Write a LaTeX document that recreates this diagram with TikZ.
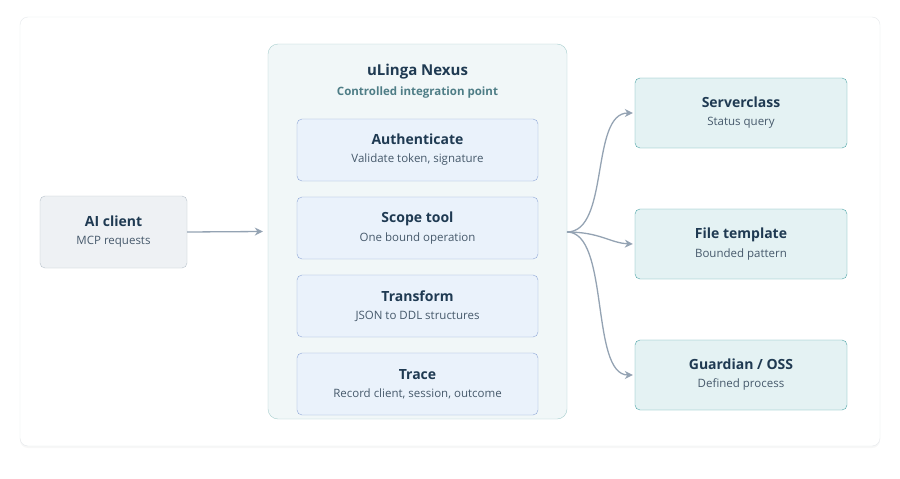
\documentclass[tikz,border=0pt]{standalone}
\usepackage{fontspec}
\setmainfont{Open Sans}
\usetikzlibrary{arrows.meta,shadows,calc}
\definecolor{ink}{HTML}{1F3A52}
\definecolor{subink}{HTML}{46596B}
\definecolor{wire}{HTML}{94A3B3}
\definecolor{hubsub}{HTML}{4E7D86}
\definecolor{cardline}{HTML}{E6E9EC}
\definecolor{clientfill}{HTML}{EEF1F4}
\definecolor{clientline}{HTML}{B8C2CC}
\definecolor{hubfill}{HTML}{F1F7F8}
\definecolor{hubline}{HTML}{A9CFCF}
\definecolor{stagefill}{HTML}{EAF2FB}
\definecolor{stageline}{HTML}{8FA7D6}
\definecolor{targetfill}{HTML}{E4F2F3}
\definecolor{targetline}{HTML}{4FA6A8}
\tikzset{
    card/.style =   {rectangle,
                    rounded corners=8pt,
                    fill=white,
                    draw=cardline,
                    drop shadow={opacity=0.06,shadow xshift=0pt,shadow yshift=-2pt}},
    client/.style = {rectangle,
                    rounded corners=5pt,
                    fill=clientfill,
                    draw=clientline,
                    text=ink,
                    minimum width=147pt,
                    minimum height=72pt,
                    align=center},
    hub/.style =    {rectangle,
                    rounded corners=10pt,
                    fill=hubfill,
                    draw=hubline,
                    minimum width=299pt,
                    minimum height=375pt},
    stage/.style =  {rectangle,
                    rounded corners=5pt,
                    fill=stagefill,
                    draw=stageline,
                    text=ink,
                    minimum width=241pt,
                    minimum height=62pt,
                    align=center},
    target/.style = {rectangle,
                    rounded corners=5pt,
                    fill=targetfill,
                    draw=targetline,
                    text=ink,
                    minimum width=212pt,
                    minimum height=70pt,
                    align=center},
    link/.style =   {draw=wire,line width=1.3pt,-{Stealth[length=8pt,width=8pt]}},
    -,
    }
\newcommand{\boxtext}[2]{{\fontsize{14}{17}\selectfont\bfseries #1}\\[6pt]{\fontsize{11.5}{13}\selectfont\color{subink}#2}}
\begin{document}
\begin{tikzpicture}[x=1pt,y=-1pt]
                \fill[white] (0,0) rectangle (900,479);
                \node[card,minimum width=860pt,minimum height=429pt] (panel) at (450,231.5) {};

                \node[client]       (ai)    at (113.5,232)      {\boxtext{AI client}{MCP requests}};
                \node[hub]          (nexus) at (417.5,231.5)    {};
                \node[text=ink]     (title) at (417.5,72)       {\fontsize{15}{18}\selectfont\bfseries uLinga Nexus};
                \node[text=hubsub]  (sub)   at (417.5,93)       {\fontsize{11.5}{13}\selectfont\bfseries Controlled integration point};

                \node[stage]        (auth)  at (417.5,150)      {\boxtext{Authenticate}{Validate token, signature}};
                \node[stage]        (scope) at (417.5,228)      {\boxtext{Scope tool}{One bound operation}};
                \node[stage]        (trans) at (417.5,306)      {\boxtext{Transform}{JSON to DDL structures}};
                \node[stage]        (trace) at (417.5,384)      {\boxtext{Trace}{Record client, session, outcome}};

                \node[target]       (srv)   at (741,113)        {\boxtext{Serverclass}{Status query}};
                \node[target]       (tmpl)  at (741,244)        {\boxtext{File template}{Bounded pattern}};
                \node[target]       (oss)   at (741,375)        {\boxtext{Guardian / OSS}{Defined process}};

                \coordinate         (out)   at (567,232);
                \path [link]  (ai.east) -- ($(nexus.west)+(-5,0)$);
                \path [link]  (out) .. controls (610,232) and (590,113) .. ($(srv.west)+(-2,0)$);
                \path [link]  (out) .. controls (600,232) and (610,243) .. ($(tmpl.west)+(-2,0)$);
                \path [link]  (out) .. controls (610,232) and (590,375) .. ($(oss.west)+(-2,0)$);
\end{tikzpicture}
\end{document}
